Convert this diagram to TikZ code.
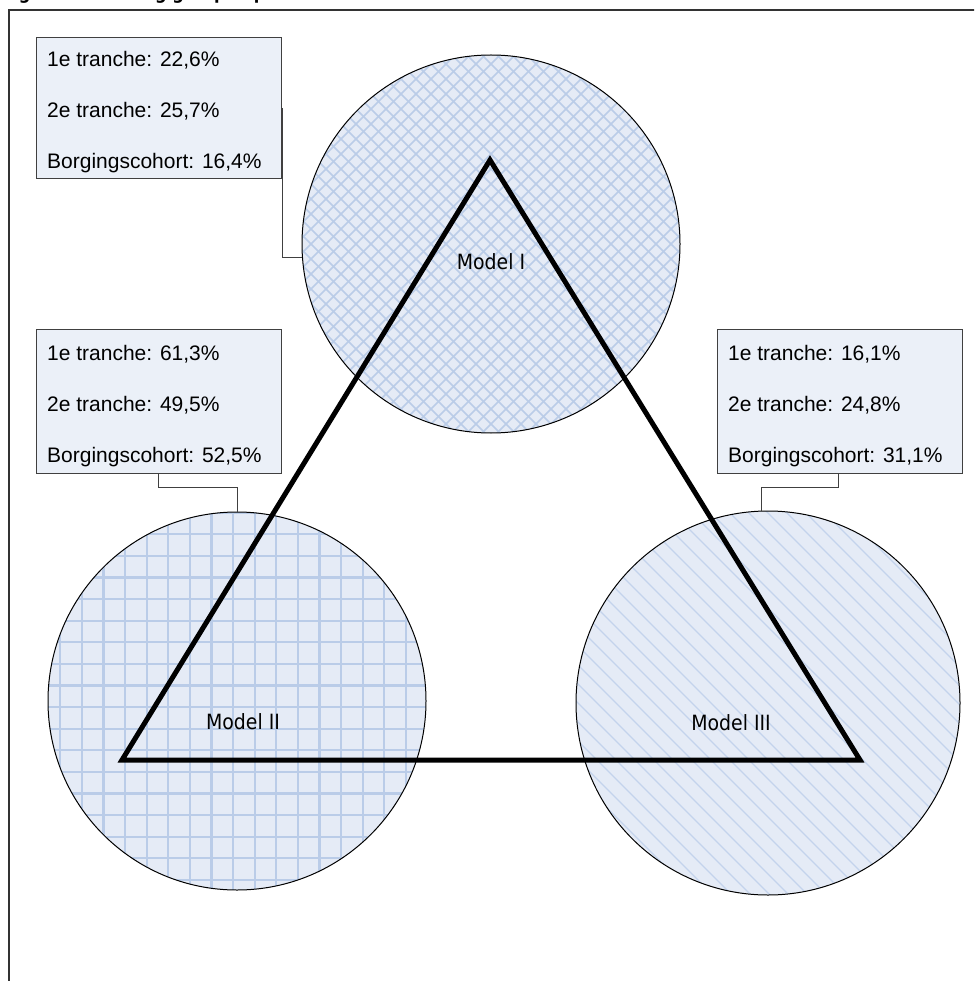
\documentclass[tikz,border=0pt]{standalone}
\usepackage{fontspec}
\setmainfont{Liberation Sans}
\newfontfamily\modelfont[FakeStretch=0.9]{DejaVu Sans}
\definecolor{boxfill}{RGB}{235,240,248}
\definecolor{circfill}{RGB}{229,235,246}
\definecolor{hatch}{RGB}{186,204,232}
\definecolor{hatchlight}{RGB}{196,211,236}
\definecolor{boxline}{RGB}{64,64,64}
\tikzset{
  infobox/.style={draw=boxline, fill=boxfill, line width=1pt, rectangle, anchor=north west, inner sep=0pt, minimum width=245pt},
  infotext/.style={anchor=base west, inner sep=0pt, font=\fontsize{21}{25}\selectfont},
  modelcirc/.style={circle, draw=black, line width=1pt, inner sep=0pt},
  modellabel/.style={inner sep=0pt, font=\modelfont\fontsize{21}{25}\selectfont},
  hatchline/.style={draw=hatch, line width=1.5pt},
  connector/.style={draw=boxline, line width=1pt},
  tri/.style={draw=black, line width=5pt, line join=miter}
}
\begin{document}
\begin{tikzpicture}[x=1pt,y=-1pt]
\useasboundingbox (0,0) rectangle (974,981);
\clip (0,0) rectangle (974,981);
\fill[white] (0,0) rectangle (974,981);
% title (cut off at the top edge, as in the reference)
\node[anchor=base west, inner sep=0pt, font=\modelfont\bfseries\fontsize{18}{20}\selectfont] (title) at (2,0) {Figuur 3: Indeling groepen per model};
% frame
\draw[line width=2pt, black!80] (8.5,990) -- (8.5,10) -- (990,10);

% circle 1 (crosshatch)
\fill[circfill] (491,244) circle (189);
\begin{scope}
  \clip (491,244) circle (189);
  \foreach \k in {-30,...,30} {
    \draw[hatchline] (491+\k*15-250,244-250) -- (491+\k*15+250,244+250);
    \draw[hatchline] (491+\k*15-250,244+250) -- (491+\k*15+250,244-250);
  }
\end{scope}
\node[modelcirc, minimum size=378pt] (c1) at (491,244) {};

% circle 2 (grid)
\fill[circfill] (237,701) circle (189);
\begin{scope}
  \clip (237,701) circle (189);
  \foreach \k in {-10,...,10} {
    \draw[hatchline, line width=2.2pt] (237+\k*21.6-4,480) -- (237+\k*21.6-4,920);
    \draw[hatchline, line width=2.2pt] (20,701+\k*21.6+6) -- (460,701+\k*21.6+6);
  }
\end{scope}
\node[modelcirc, minimum size=378pt] (c2) at (237,701) {};

% circle 3 (diagonal)
\fill[circfill] (768,703) circle (192);
\begin{scope}
  \clip (768,703) circle (192);
  \foreach \k in {-30,...,30} {
    \draw[hatchline, draw=hatchlight, line width=1.3pt] (768+\k*19-260,703-260) -- (768+\k*19+260,703+260);
  }
\end{scope}
\node[modelcirc, minimum size=384pt] (c3) at (768,703) {};

% info boxes
\node[infobox, minimum height=141pt] (b1) at (36,37) {};
\node[infobox, minimum height=144pt] (b2) at (36,329) {};
\node[infobox, minimum height=144pt] (b3) at (717,329) {};

\node[infotext] (t11) at (47,67) {1e tranche: 22,6\%};
\node[infotext] (t12) at (47,118) {2e tranche: 25,7\%};
\node[infotext] (t13) at (47,169) {Borgingscohort: 16,4\%};

\node[infotext] (t21) at (47,360) {1e tranche: 61,3\%};
\node[infotext] (t22) at (47,411) {2e tranche: 49,5\%};
\node[infotext] (t23) at (47,462) {Borgingscohort: 52,5\%};

\node[infotext] (t31) at (728,360) {1e tranche: 16,1\%};
\node[infotext] (t32) at (728,411) {2e tranche: 24,8\%};
\node[infotext] (t33) at (728,462) {Borgingscohort: 31,1\%};

% connectors
\draw[connector] (b1.east) |- (c1.184);
\coordinate (k2) at (158,487);
\draw[connector] (b2.south -| k2) -- (k2) -| (c2.north);
\coordinate (k3) at (838,487);
\draw[connector] (b3.south -| k3) -- (k3) -| (c3.92);

% triangle
\coordinate (v1) at (490,160);
\coordinate (v2) at (122,760);
\coordinate (v3) at (860,760);
\draw[tri] (v1) -- (v2) -- (v3) -- cycle;

% labels
\node[modellabel] (m1) at (491,262) {Model I};
\node[modellabel] (m2) at (243,722) {Model II};
\node[modellabel] (m3) at (731,723) {Model III};
\end{tikzpicture}
\end{document}
